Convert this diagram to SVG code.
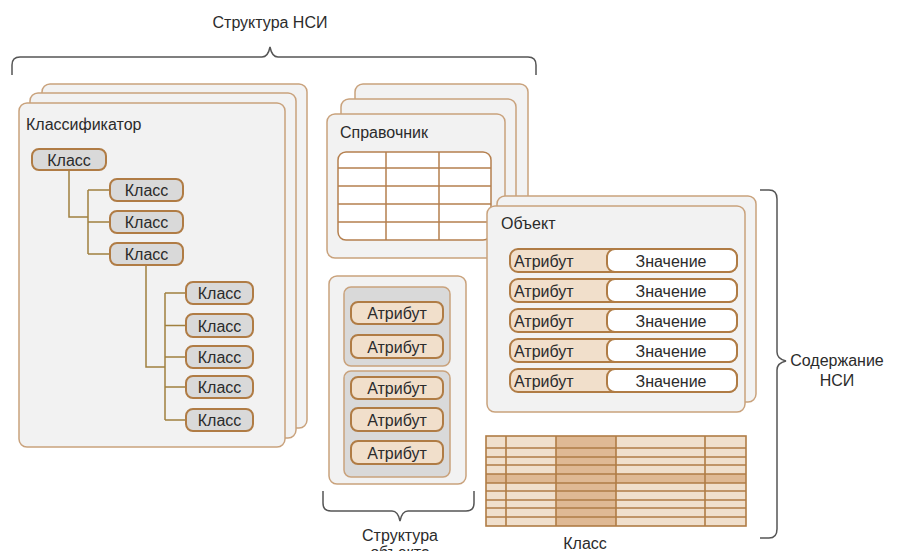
<svg xmlns="http://www.w3.org/2000/svg" width="902" height="551" viewBox="0 0 902 551">
<style>
text{font-family:"Liberation Sans",Arial,sans-serif;font-size:16px;fill:#2b2b2b}
.card{fill:#f2f2f2;stroke:#c9a27c;stroke-width:1.5}
.cls{fill:#d9d9d9;stroke:#b07c45;stroke-width:2}
.attr{fill:#f1dfcb;stroke:#b07c45;stroke-width:2}
.grp{fill:#d9d9d9;stroke:#c9a27c;stroke-width:1.5}
.brace{fill:none;stroke:#555;stroke-width:1.5}
.conn{fill:none;stroke:#a0803f;stroke-width:1.5}
.tl{stroke:#b5804f;stroke-width:1.5;fill:none}
.c{text-anchor:middle}
</style>
<rect width="902" height="551" fill="#fff"/>

<g id="brace-structure">
<path class="brace" d="M12,75 L12,65 Q12,57 20,57 L262,57 Q268,57 270,47 Q272,57 278,57 L528,57 Q536,57 536,65 L536,75"/>
<text class="c" x="270" y="28">Структура НСИ</text>
</g>

<g id="classifier">
<rect class="card" x="42" y="84" width="265" height="344" rx="8"/>
<rect class="card" x="30" y="93" width="266" height="345" rx="8"/>
<rect class="card" x="19" y="103" width="266" height="344" rx="8"/>
<text x="26" y="130">Классификатор</text>
</g>

<g id="tree-connectors">
<path class="conn" d="M69,170 V217 H88 M88,190 V254 M88,190 H110 M88,222 H110 M88,254 H110"/>
<path class="conn" d="M146,265 V367 H165 M165,293 V420 M165,293 H186 M165,325.5 H186 M165,357 H186 M165,387 H186 M165,420 H186"/>
</g>

<g id="class-1"><rect class="cls" x="32" y="149" width="74" height="21" rx="7"/><text class="c" x="69" y="165.5">Класс</text></g>
<g id="class-2"><rect class="cls" x="110" y="179" width="73" height="22" rx="7"/><text class="c" x="146.5" y="196">Класс</text></g>
<g id="class-3"><rect class="cls" x="110" y="211" width="73" height="22" rx="7"/><text class="c" x="146.5" y="228">Класс</text></g>
<g id="class-4"><rect class="cls" x="110" y="243" width="73" height="22" rx="7"/><text class="c" x="146.5" y="260">Класс</text></g>
<g id="class-5"><rect class="cls" x="186" y="282" width="67" height="22" rx="7"/><text class="c" x="219.5" y="299">Класс</text></g>
<g id="class-6"><rect class="cls" x="186" y="314" width="67" height="23" rx="7"/><text class="c" x="219.5" y="331.5">Класс</text></g>
<g id="class-7"><rect class="cls" x="186" y="346" width="67" height="22" rx="7"/><text class="c" x="219.5" y="363">Класс</text></g>
<g id="class-8"><rect class="cls" x="186" y="376" width="67" height="22" rx="7"/><text class="c" x="219.5" y="393">Класс</text></g>
<g id="class-9"><rect class="cls" x="186" y="409" width="67" height="22" rx="7"/><text class="c" x="219.5" y="426">Класс</text></g>

<g id="reference-book">
<rect class="card" x="355" y="84" width="173" height="144" rx="8"/>
<rect class="card" x="341" y="99" width="175" height="144" rx="8"/>
<rect class="card" x="327" y="114" width="178" height="144" rx="8"/>
<text x="340" y="138">Справочник</text>
<rect x="338" y="152" width="153" height="88" rx="8" fill="#fff" stroke="#b5804f" stroke-width="1.5"/>
<path class="tl" d="M338,168 H491 M338,186 H491 M338,204 H491 M338,222 H491 M386,152 V240 M439,152 V240"/>
</g>

<g id="object-structure">
<rect class="card" x="329" y="276" width="137" height="208" rx="8"/>
<rect class="grp" x="344" y="287" width="106" height="79" rx="7"/>
<rect class="grp" x="344" y="371" width="106" height="106" rx="7"/>
<rect class="attr" x="351" y="302" width="92" height="22" rx="7"/><text class="c" x="397" y="319">Атрибут</text>
<rect class="attr" x="351" y="335" width="92" height="23" rx="7"/><text class="c" x="397" y="352.5">Атрибут</text>
<rect class="attr" x="351" y="377" width="92" height="22" rx="7"/><text class="c" x="397" y="394">Атрибут</text>
<rect class="attr" x="351" y="408" width="92" height="23" rx="7"/><text class="c" x="397" y="425.5">Атрибут</text>
<rect class="attr" x="351" y="441" width="92" height="23" rx="7"/><text class="c" x="397" y="458.5">Атрибут</text>
</g>

<g id="brace-object-structure">
<path class="brace" d="M323,491 L323,503 Q323,511 331,511 L392,511 Q398,511 400,521 Q402,511 408,511 L466,511 Q474,511 474,503 L474,491"/>
<text class="c" x="400" y="541">Структура</text>
<text class="c" x="400" y="558">объекта</text>
</g>

<g id="object">
<rect class="card" x="497" y="196" width="259" height="206" rx="8"/>
<rect class="card" x="487" y="206" width="258" height="206" rx="8"/>
<text x="501" y="229">Объект</text>
<g id="row-1"><rect class="attr" x="510" y="249" width="227" height="23" rx="8"/><rect x="607" y="249" width="130" height="23" rx="8" fill="#fff" stroke="#b07c45" stroke-width="2"/><text x="514" y="266.5">Атрибут</text><text class="c" x="671" y="266.5">Значение</text></g>
<g id="row-2"><rect class="attr" x="510" y="279" width="227" height="23" rx="8"/><rect x="607" y="279" width="130" height="23" rx="8" fill="#fff" stroke="#b07c45" stroke-width="2"/><text x="514" y="296.5">Атрибут</text><text class="c" x="671" y="296.5">Значение</text></g>
<g id="row-3"><rect class="attr" x="510" y="309" width="227" height="23" rx="8"/><rect x="607" y="309" width="130" height="23" rx="8" fill="#fff" stroke="#b07c45" stroke-width="2"/><text x="514" y="326.5">Атрибут</text><text class="c" x="671" y="326.5">Значение</text></g>
<g id="row-4"><rect class="attr" x="510" y="339" width="227" height="23" rx="8"/><rect x="607" y="339" width="130" height="23" rx="8" fill="#fff" stroke="#b07c45" stroke-width="2"/><text x="514" y="356.5">Атрибут</text><text class="c" x="671" y="356.5">Значение</text></g>
<g id="row-5"><rect class="attr" x="510" y="369" width="227" height="23" rx="8"/><rect x="607" y="369" width="130" height="23" rx="8" fill="#fff" stroke="#b07c45" stroke-width="2"/><text x="514" y="386.5">Атрибут</text><text class="c" x="671" y="386.5">Значение</text></g>
</g>

<g id="class-table">
<rect x="486" y="436" width="260" height="90" fill="#f0dfcc"/>
<rect x="556" y="436" width="60" height="90" fill="#dfb994"/>
<rect x="486" y="474" width="260" height="9" fill="#dfb994"/>
<path stroke="#b07c45" stroke-width="1.6" fill="none" d="M486,448 H746 M486,457 H746 M486,465 H746 M486,474 H746 M486,483 H746 M486,491 H746 M486,500 H746 M486,508 H746 M486,517 H746 M506,436 V526 M556,436 V526 M616,436 V526 M705,436 V526"/>
<rect x="486" y="436" width="260" height="90" fill="none" stroke="#b07c45" stroke-width="1.6"/>
<text class="c" x="585" y="549">Класс</text>
</g>

<g id="brace-content">
<path class="brace" d="M760,190 L769,190 Q777,190 777,199 L777,352 Q777,359 786,361 Q777,363 777,370 L777,529 Q777,538 769,538 L760,538"/>
<text class="c" x="837" y="366">Содержание</text>
<text class="c" x="837" y="386">НСИ</text>
</g>
</svg>
